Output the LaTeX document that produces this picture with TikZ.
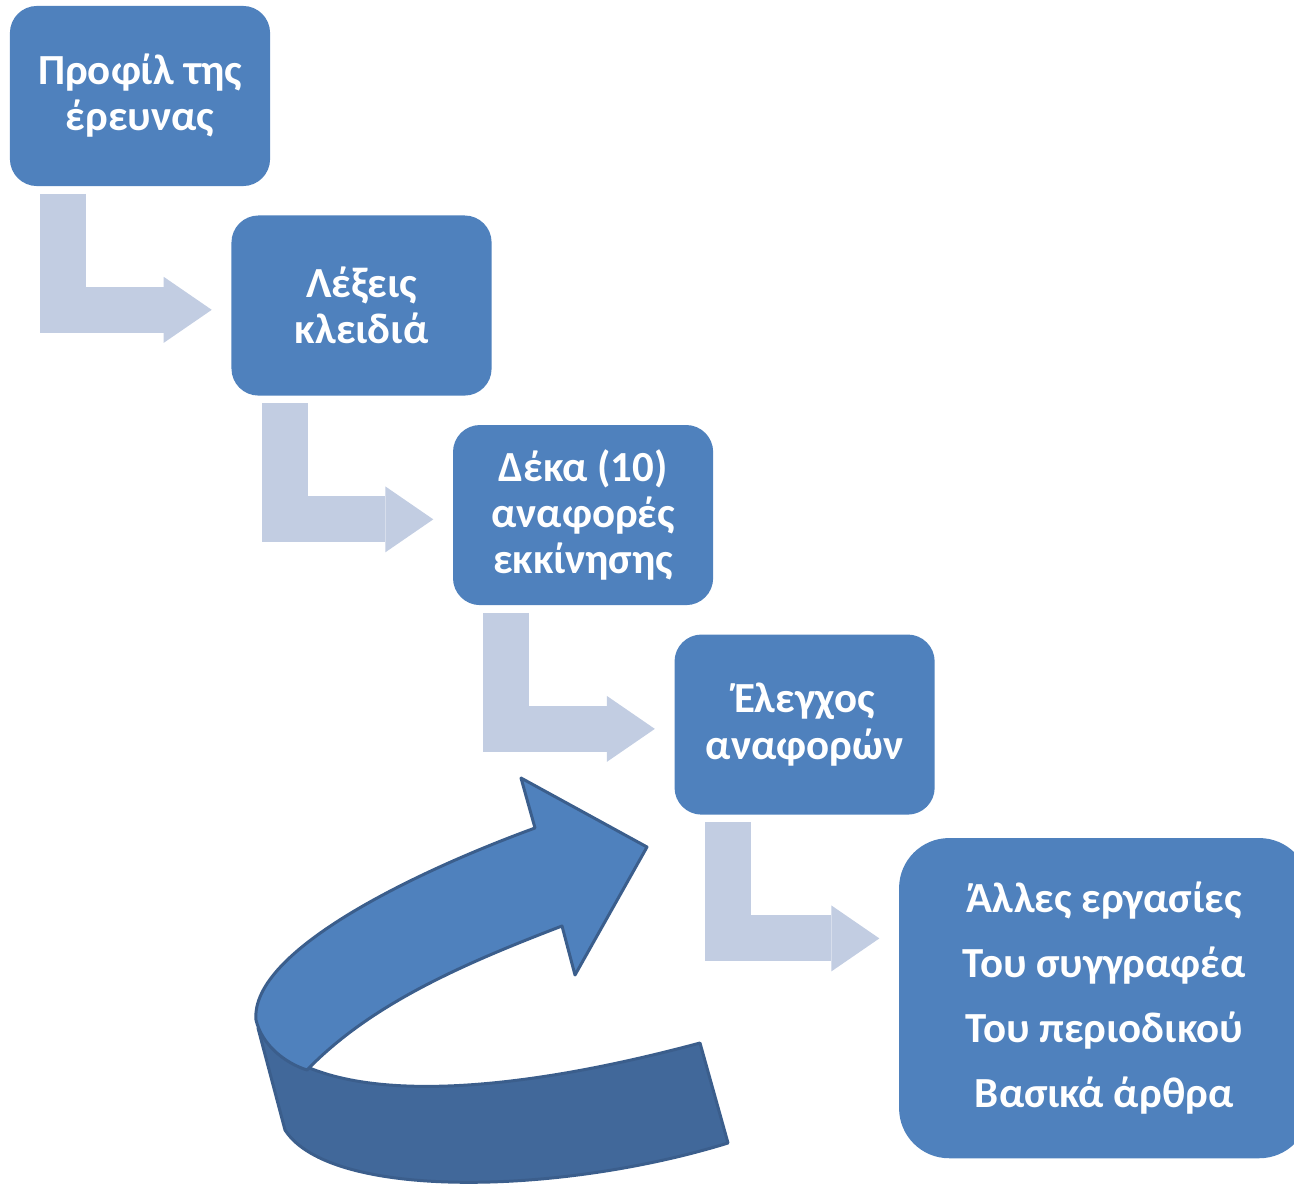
\documentclass[tikz,border=0pt]{standalone}
\usepackage{fontspec}
\setmainfont{Carlito}
\usepackage{xcolor}
\usepackage{tikz}
\usetikzlibrary{positioning, arrows.meta}
\definecolor{boxblue}{HTML}{4F81BD}
\definecolor{paleblue}{HTML}{C2CDE2}
\definecolor{edgeblue}{HTML}{3B5E8C}
\definecolor{deepblue}{HTML}{41689A}

\begin{document}
\begin{tikzpicture}[x=0.01cm, y=-0.01cm, node distance=0.28cm and -0.40cm,
  stage/.style={rectangle, rounded corners=0.27cm, fill=boxblue, text=white, font=\fontsize{12.2}{13.1}\selectfont\bfseries, align=center, minimum width=2.6cm, minimum height=1.8cm, inner sep=0pt},
  elbow/.style={paleblue, line width=0.46cm, line join=miter, -{Triangle[width=0.66cm, length=0.48cm, line width=0pt]}}]
\useasboundingbox (0,0) rectangle (1294,1188);

\node[stage] (profile) at (140,96) {Προφίλ της\\έρευνας};
\node[stage, below right=of profile] (keywords) {Λέξεις\\κλειδιά};
\node[stage, below right=of keywords] (tenrefs) {Δέκα (10)\\αναφορές\\εκκίνησης};
\node[stage, below right=of tenrefs] (check) {Έλεγχος\\αναφορών};
\node[stage, below right=0.22cm and -0.37cm of check, rounded corners=0.5cm, minimum width=4.1cm, minimum height=3.2cm, font=\fontsize{12.2}{18.5}\selectfont\bfseries] (more) {Άλλες εργασίες\\Του συγγραφέα\\Του περιοδικού\\Βασικά άρθρα};

\foreach \a/\b in {profile/keywords, keywords/tenrefs, tenrefs/check, check/more}
  \draw[elbow] ([xshift=0.54cm, yshift=-0.07cm]\a.south west) |- ([xshift=-0.19cm, yshift=-1.23cm]\a.south -| \b.west);

% curved arrow
\filldraw[deepblue, draw=edgeblue, line width=0.85pt, line join=round] (258,1028) .. controls (300,1095) and (450,1110) .. (700,1043) -- (728,1143) .. controls (560,1195) and (330,1200) .. (285,1130) -- cycle;
\filldraw[boxblue, draw=edgeblue, line width=0.85pt, line join=round] (307,1070) .. controls (370,1005) and (460,965) .. (562,926) -- (575,975) -- (647,847) -- (521,778) -- (535,828) .. controls (420,870) and (250,950) .. (256,1020) .. controls (262,1045) and (285,1063) .. (307,1070) -- cycle;
\end{tikzpicture}
\end{document}
